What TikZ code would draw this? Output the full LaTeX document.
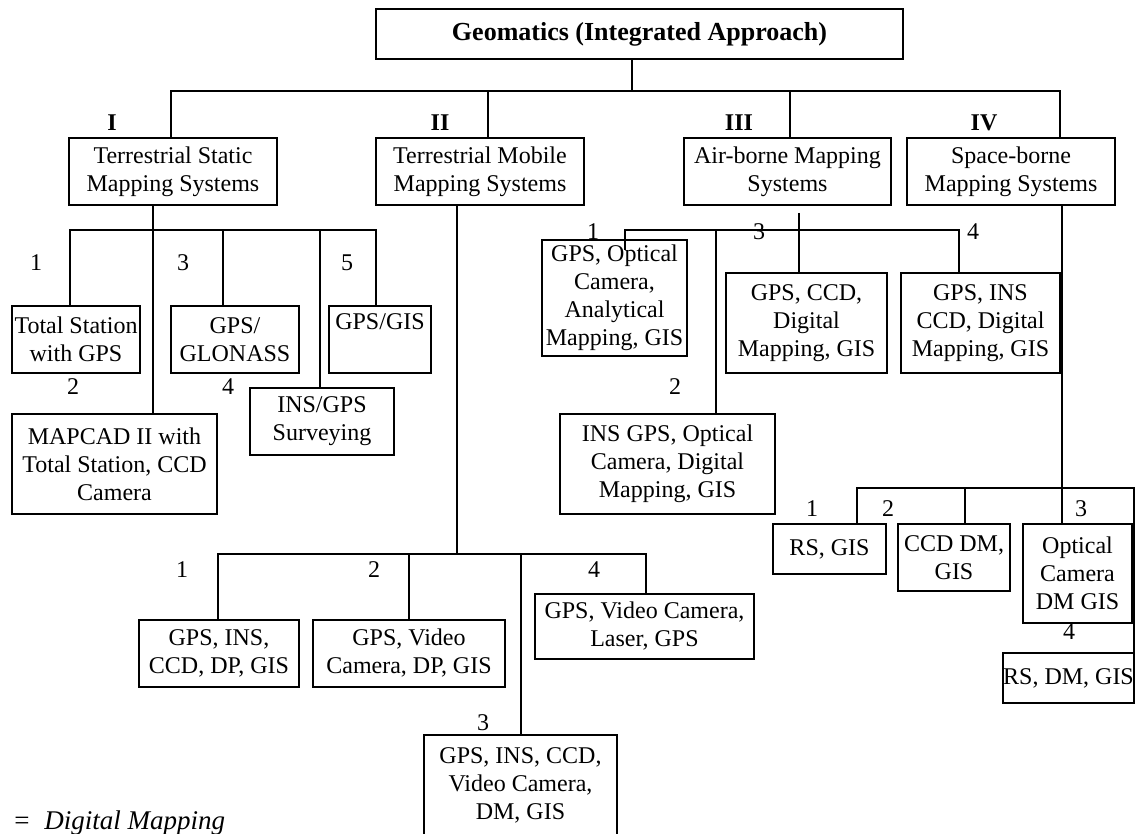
\documentclass[tikz,border=0pt]{standalone}
\usepackage{fontspec}
\setmainfont{Liberation Serif}
\begin{document}
\begin{tikzpicture} [x=1pt, y=-1pt, line width=2.5pt,
  box/.style 2 args={draw, anchor=north west, inner sep=0pt, outer sep=0pt, align=center,
    minimum width=#1pt, minimum height=#2pt, font=\fontsize{24}{28}\selectfont},
  num/.style={inner sep=0pt, font=\fontsize{24}{28}\selectfont},
  roman/.style={inner sep=0pt, font=\fontsize{24}{28}\selectfont\bfseries}]
\useasboundingbox (0,0) rectangle (1138,834);
\node [box={527}{50}, font=\fontsize{26}{30}\selectfont\bfseries] (g) at (376,9) {Geomatics (Integrated Approach)};
\node [box={208}{67}] (a) at (69,138) {Terrestrial Static\\Mapping Systems};
\node [box={208}{67}] (b) at (376,138) {Terrestrial Mobile\\Mapping Systems};
\node [box={207}{67}] (c) at (684,138) {Air-borne Mapping\\Systems};
\node [box={208}{67}] (d) at (907,138) {Space-borne\\Mapping Systems};
\node [roman] (ra) at (112,123) {I};
\node [roman] (rb) at (440,123) {II};
\node [roman] (rc) at (739,123) {III};
\node [roman] (rd) at (984,123) {IV};
\node [box={128}{67}] (a1) at (12,306) {Total Station\\with GPS};
\node [box={205}{100}] (a2) at (12,414) {MAPCAD II with\\Total Station, CCD\\Camera};
\node [box={128}{67}] (a3) at (171,306) {GPS/\\GLONASS};
\node [box={144}{67}] (a4) at (250,388) {INS/GPS\\Surveying};
\node [box={102}{67}] (a5) at (329,306) {GPS/GIS\\\strut};
\node [num] (na1) at (36,263) {1};
\node [num] (na2) at (73,387) {2};
\node [num] (na3) at (183,263) {3};
\node [num] (na4) at (228,387) {4};
\node [num] (na5) at (347,263) {5};
\node [box={160}{67}] (b1) at (139,620) {GPS, INS,\\CCD, DP, GIS};
\node [box={192}{67}] (b2) at (313,620) {GPS, Video\\Camera, DP, GIS};
\node [box={193}{101}] (b3) at (424,735) {GPS, INS, CCD,\\Video Camera,\\DM, GIS};
\node [box={219}{65}] (b4) at (535,594) {GPS, Video Camera,\\Laser, GPS};
\node [num] (nb1) at (182,570) {1};
\node [num] (nb2) at (374,570) {2};
\node [num] (nb3) at (483,723) {3};
\node [num] (nb4) at (594,570) {4};
\node [box={145}{116}] (c1) at (542,240) {GPS, Optical\\Camera,\\Analytical\\Mapping, GIS};
\node [box={215}{100}] (c2) at (560,414) {INS GPS, Optical\\Camera, Digital\\Mapping, GIS};
\node [box={161}{100}] (c3) at (726,273) {GPS, CCD,\\Digital\\Mapping, GIS};
\node [box={159}{100}] (c4) at (901,273) {GPS, INS\\CCD, Digital\\Mapping, GIS};
\node [num] (nc1) at (593,232) {1};
\node [num] (nc2) at (675,387) {2};
\node [num] (nc3) at (759,232) {3};
\node [num] (nc4) at (973,232) {4};
\node [box={113}{50}] (d1) at (773,524) {RS, GIS};
\node [box={112}{67}] (d2) at (898,524) {CCD DM,\\GIS};
\node [box={109}{99}] (d3) at (1023,524) {Optical\\Camera\\DM GIS};
\node [box={131}{50}] (d4) at (1003,653) {RS, DM, GIS};
\node [num] (nd1) at (812,509) {1};
\node [num] (nd2) at (888,509) {2};
\node [num] (nd3) at (1081,509) {3};
\node [num] (nd4) at (1069,632) {4};
\node [num, anchor=base west, font=\fontsize{27}{30}\selectfont] (dm) at (13,829) {=\hspace{15pt}\textit{Digital Mapping}};
\coordinate (g0) at (632,91);
\coordinate (ga) at (171,91);
\coordinate (gb) at (488,91);
\coordinate (gc) at (790,91);
\coordinate (gd) at (1060,91);
\draw (g0 |- g.south) -- (g0)
  (ga |- a.north) -- (ga) -- (gd) -- (gd |- d.north)
  (gb) -- (gb |- b.north)
  (gc) -- (gc |- c.north);
\coordinate (ja0) at (153,230);
\coordinate (ja1) at (70,230);
\coordinate (ja3) at (223,230);
\coordinate (ja4) at (320,230);
\coordinate (ja5) at (376,230);
\draw (ja0 |- a.south) -- (ja0 |- a2.north)
  (ja1 |- a1.north) -- (ja1) -- (ja5) -- (ja5 |- a5.north)
  (ja3) -- (ja3 |- a3.north)
  (ja4) -- (ja4 |- a4.north);
\coordinate (jb0) at (457,554);
\coordinate (jb1) at (218,554);
\coordinate (jb2) at (409,554);
\coordinate (jb3) at (521,554);
\coordinate (jb4) at (646,554);
\draw (jb0 |- b.south) -- (jb0)
  (jb1 |- b1.north) -- (jb1) -- (jb4) -- (jb4 |- b4.north)
  (jb2) -- (jb2 |- b2.north)
  (jb3) -- (jb3 |- b3.north);
\coordinate (jc0) at (799,213);
\coordinate (jc1) at (625,230);
\coordinate (jc2) at (716,230);
\coordinate (jc3) at (799,230);
\coordinate (jc4) at (959,230);
\draw (jc0) -- (jc0 |- c3.north)
  (jc4 |- c4.north) -- (jc4) -- (jc1) -- ++(0,20)
  (jc2) -- (jc2 |- c2.north);
\coordinate (jd1) at (857,488);
\coordinate (jd2) at (965,488);
\coordinate (jd3) at (1062,488);
\coordinate (jd4) at (1134,488);
\draw (jd3 |- d.south) -- (jd3 |- d3.north)
  (jd1 |- d1.north) -- (jd1) -- (jd4) -- (d4.north east)
  (jd2) -- (jd2 |- d2.north);
\end{tikzpicture}
\end{document}
